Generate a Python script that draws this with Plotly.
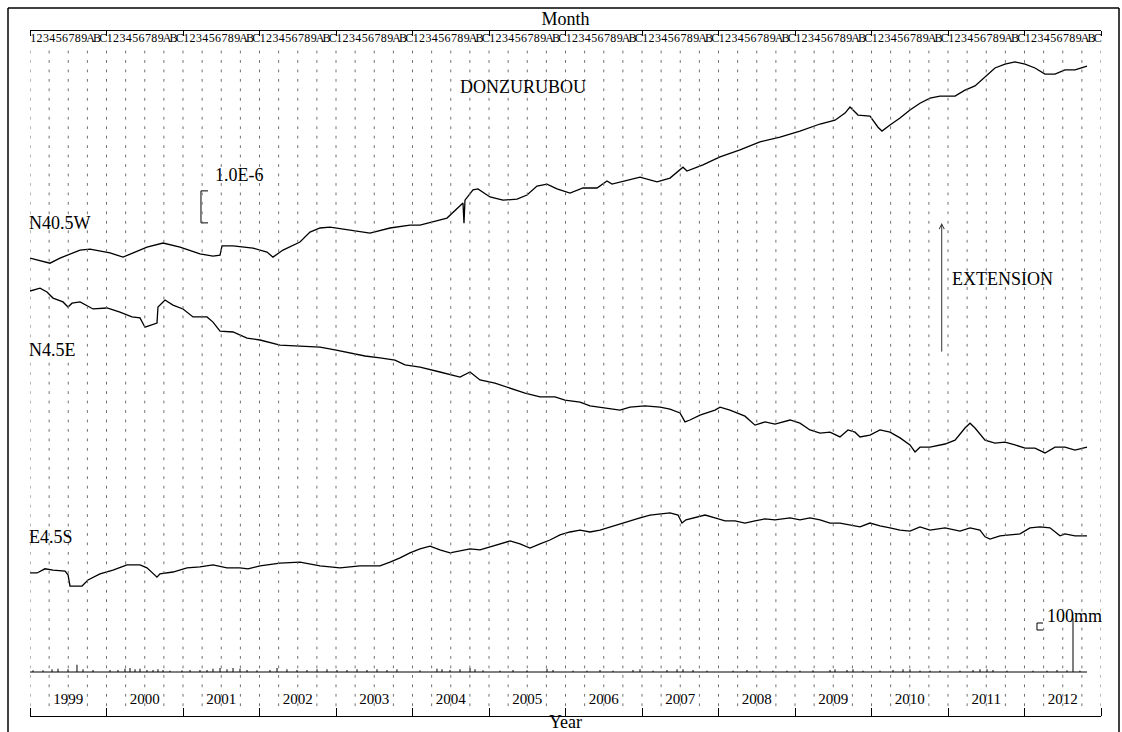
import numpy as np
import plotly.graph_objects as go

FONT = "Liberation Serif"

# ---------------- data ----------------
YEARS = list(range(1999, 2013))
MONTH_LABELS = ["1", "2", "3", "4", "5", "6", "7", "8", "9", "A", "B", "C"]

# strain change (1e-6) relative to start of record
N40_T = [1999.000, 1999.261, 1999.392, 1999.654, 1999.784, 2000.046, 2000.216, 2000.529, 2000.739, 2000.961,
         2001.222, 2001.392, 2001.484, 2001.510, 2001.654, 2001.915, 2002.098, 2002.176, 2002.307, 2002.529,
         2002.660, 2002.791, 2002.922, 2003.183, 2003.444, 2003.706, 2003.967, 2004.098, 2004.451, 2004.660,
         2004.673, 2004.686, 2004.791, 2004.856, 2005.013, 2005.183, 2005.366, 2005.497, 2005.627, 2005.758,
         2005.889, 2006.059, 2006.229, 2006.412, 2006.542, 2006.608, 2006.804, 2006.974, 2007.196, 2007.366,
         2007.536, 2007.588, 2007.797, 2008.020, 2008.281, 2008.542, 2008.804, 2009.065, 2009.327, 2009.523,
         2009.654, 2009.719, 2009.824, 2009.980, 2010.085, 2010.137, 2010.242, 2010.373, 2010.503, 2010.634,
         2010.765, 2010.895, 2011.092, 2011.222, 2011.353, 2011.484, 2011.614, 2011.745, 2011.876, 2012.007,
         2012.137, 2012.268, 2012.399, 2012.529, 2012.660, 2012.817]
N40_V = [0.00, -0.16, 0.00, 0.25, 0.28, 0.16, 0.03, 0.34, 0.47, 0.34,
         0.13, 0.06, 0.09, 0.38, 0.38, 0.31, 0.19, 0.03, 0.25, 0.50,
         0.81, 0.94, 0.97, 0.88, 0.78, 0.94, 1.03, 1.03, 1.25, 1.72,
         1.09, 1.81, 2.13, 2.16, 1.91, 1.81, 1.84, 1.97, 2.25, 2.31,
         2.16, 2.03, 2.19, 2.19, 2.41, 2.31, 2.44, 2.53, 2.38, 2.50,
         2.84, 2.72, 2.91, 3.16, 3.38, 3.63, 3.78, 3.97, 4.19, 4.31,
         4.53, 4.72, 4.47, 4.44, 4.09, 3.97, 4.16, 4.38, 4.63, 4.84,
         5.00, 5.06, 5.06, 5.25, 5.38, 5.66, 5.94, 6.06, 6.13, 6.06,
         5.94, 5.75, 5.75, 5.88, 5.88, 6.00]

N4_T = [1999.000, 1999.131, 1999.222, 1999.301, 1999.431, 1999.497, 1999.549, 1999.654, 1999.824, 2000.007,
        2000.176, 2000.333, 2000.438, 2000.503, 2000.660, 2000.673, 2000.765, 2000.869, 2001.000, 2001.131,
        2001.314, 2001.392, 2001.484, 2001.654, 2001.837, 2002.007, 2002.268, 2002.529, 2002.791, 2002.987,
        2003.183, 2003.379, 2003.575, 2003.771, 2003.902, 2004.098, 2004.359, 2004.621, 2004.752, 2004.882,
        2005.078, 2005.275, 2005.471, 2005.667, 2005.863, 2005.993, 2006.190, 2006.320, 2006.451, 2006.582,
        2006.712, 2006.843, 2007.039, 2007.235, 2007.366, 2007.497, 2007.562, 2007.627, 2007.758, 2007.954,
        2008.020, 2008.150, 2008.346, 2008.477, 2008.608, 2008.739, 2008.935, 2009.065, 2009.196, 2009.327,
        2009.458, 2009.588, 2009.693, 2009.784, 2009.850, 2009.980, 2010.111, 2010.242, 2010.373, 2010.503,
        2010.569, 2010.634, 2010.765, 2010.961, 2011.092, 2011.222, 2011.288, 2011.353, 2011.484, 2011.614,
        2011.745, 2011.876, 2012.007, 2012.137, 2012.268, 2012.399, 2012.529, 2012.660, 2012.817]
N4_V = [0.00, 0.09, -0.03, -0.22, -0.34, -0.50, -0.38, -0.34, -0.56, -0.53,
        -0.66, -0.81, -0.84, -1.13, -1.00, -0.50, -0.28, -0.44, -0.56, -0.81,
        -0.81, -0.97, -1.25, -1.28, -1.47, -1.53, -1.69, -1.72, -1.75, -1.84,
        -1.94, -2.03, -2.09, -2.16, -2.31, -2.38, -2.53, -2.69, -2.53, -2.78,
        -2.88, -3.03, -3.19, -3.31, -3.31, -3.41, -3.47, -3.59, -3.63, -3.66,
        -3.72, -3.63, -3.59, -3.63, -3.69, -3.81, -4.09, -4.03, -3.88, -3.72,
        -3.63, -3.72, -3.91, -4.19, -4.09, -4.16, -4.03, -4.13, -4.34, -4.44,
        -4.41, -4.56, -4.34, -4.41, -4.56, -4.50, -4.34, -4.41, -4.59, -4.81,
        -5.03, -4.88, -4.88, -4.78, -4.66, -4.28, -4.13, -4.28, -4.66, -4.75,
        -4.72, -4.81, -4.91, -4.91, -5.06, -4.88, -4.88, -4.97, -4.88]

E4_T = [1999.000, 1999.092, 1999.196, 1999.301, 1999.458, 1999.497, 1999.523, 1999.680, 1999.758, 1999.915,
        2000.085, 2000.268, 2000.438, 2000.529, 2000.660, 2000.699, 2000.869, 2001.052, 2001.222, 2001.392,
        2001.575, 2001.745, 2001.850, 2002.007, 2002.268, 2002.529, 2002.791, 2003.052, 2003.314, 2003.575,
        2003.706, 2003.837, 2003.967, 2004.098, 2004.229, 2004.359, 2004.490, 2004.621, 2004.752, 2004.882,
        2005.013, 2005.144, 2005.275, 2005.405, 2005.536, 2005.667, 2005.797, 2005.928, 2006.059, 2006.190,
        2006.320, 2006.451, 2006.582, 2006.712, 2006.843, 2006.974, 2007.105, 2007.235, 2007.366, 2007.471,
        2007.523, 2007.575, 2007.693, 2007.824, 2007.954, 2008.085, 2008.216, 2008.346, 2008.477, 2008.608,
        2008.739, 2008.935, 2009.065, 2009.196, 2009.327, 2009.458, 2009.588, 2009.719, 2009.850, 2009.980,
        2010.111, 2010.242, 2010.373, 2010.503, 2010.634, 2010.765, 2010.961, 2011.157, 2011.288, 2011.418,
        2011.484, 2011.549, 2011.680, 2011.810, 2011.941, 2012.072, 2012.203, 2012.333, 2012.399, 2012.464,
        2012.529, 2012.660, 2012.817]
E4_V = [0.00, 0.00, 0.13, 0.09, 0.06, -0.06, -0.41, -0.41, -0.22, -0.03,
        0.09, 0.25, 0.25, 0.16, -0.13, -0.03, 0.03, 0.16, 0.19, 0.25,
        0.16, 0.16, 0.13, 0.22, 0.31, 0.34, 0.22, 0.16, 0.22, 0.22,
        0.34, 0.47, 0.63, 0.75, 0.84, 0.72, 0.63, 0.69, 0.75, 0.72,
        0.81, 0.91, 1.00, 0.91, 0.78, 0.91, 1.03, 1.19, 1.28, 1.34,
        1.28, 1.34, 1.44, 1.53, 1.63, 1.72, 1.81, 1.84, 1.88, 1.81,
        1.56, 1.66, 1.72, 1.81, 1.72, 1.63, 1.63, 1.56, 1.63, 1.69,
        1.66, 1.72, 1.66, 1.72, 1.66, 1.56, 1.56, 1.50, 1.44, 1.56,
        1.47, 1.41, 1.34, 1.31, 1.44, 1.34, 1.41, 1.31, 1.41, 1.34,
        1.13, 1.06, 1.16, 1.19, 1.22, 1.41, 1.44, 1.41, 1.28, 1.16,
        1.22, 1.16, 1.16]

# precipitation (mm)
RAIN_T = [1999.039, 1999.170, 1999.288, 1999.366, 1999.497, 1999.614, 1999.693, 1999.824, 2000.046, 2000.150,
          2000.242, 2000.307, 2000.373, 2000.438, 2000.529, 2000.608, 2000.673, 2000.739, 2000.830, 2000.987,
          2001.092, 2001.222, 2001.314, 2001.392, 2001.484, 2001.575, 2001.654, 2001.745, 2001.837, 2001.967,
          2002.137, 2002.229, 2002.359, 2002.490, 2002.621, 2002.752, 2002.882, 2003.013, 2003.144, 2003.275,
          2003.405, 2003.536, 2003.667, 2003.797,
          2004.098, 2004.320, 2004.386, 2004.490, 2004.621, 2004.752, 2004.817, 2004.922, 2005.144, 2005.314,
          2005.497, 2005.758, 2005.837, 2006.098, 2006.281, 2006.451, 2006.621, 2006.882, 2006.974, 2007.144,
          2007.327, 2007.458, 2007.536, 2007.667, 2007.850, 2008.190, 2008.373, 2008.542, 2008.712, 2008.895,
          2009.065, 2009.235, 2009.458, 2009.523, 2009.680, 2009.758, 2009.889, 2010.111, 2010.281, 2010.412,
          2010.503, 2010.634, 2010.765, 2010.895, 2011.157, 2011.327, 2011.418, 2011.510, 2011.588, 2011.771,
          2012.111, 2012.294, 2012.425, 2012.556, 2012.634, 2012.725]
RAIN_MM = [24, 24, 39, 47, 39, 104, 39, 29, 29, 29,
           47, 57, 39, 47, 29, 29, 39, 29, 19, 24,
           29, 29, 29, 47, 57, 39, 57, 47, 29, 24,
           29, 57, 39, 29, 29, 39, 39, 29, 29, 39,
           29, 39, 29, 39,
           24, 47, 39, 29, 39, 57, 39, 24, 19, 29,
           24, 47, 29, 19, 19, 29, 19, 29, 39, 19,
           29, 39, 39, 29, 19, 19, 29, 19, 19, 19,
           19, 24, 29, 39, 29, 39, 19, 19, 29, 39,
           39, 19, 19, 19, 19, 29, 39, 39, 29, 19,
           19, 19, 29, 24, 770, 19]

SERIES = [("N40.5W", N40_T, N40_V), ("N4.5E", N4_T, N4_V), ("E4.5S", E4_T, E4_V)]

# ---------------- display layout constants ----------------
W, H = 1122, 732
ML, MR, MT, MB = 30, 21, 31, 16
PLOT_W = W - ML - MR
PLOT_H = H - MT - MB
PX_PER_STRAIN = 32.0           # pixels per 1e-6
PX_PER_MM = 0.07               # pixels per mm of rain
RAIN_BASE_PX = 44              # rain baseline above plot bottom
Y_TOP = PLOT_H / PX_PER_STRAIN
OFFSETS = {"N40.5W": 14.31, "N4.5E": 13.28, "E4.5S": 4.47}
LABEL_Y = {"N40.5W": 15.41, "N4.5E": 11.44, "E4.5S": 5.59}
SCALE_STRAIN = 1.0
SCALE_MM = 100

fig = go.Figure()

# dotted lattice (quarter-year columns)
cols = np.arange(YEARS[0], YEARS[-1] + 1 + 1e-9, 0.25)
rows = PLOT_H - (21 + 9.46 * np.arange(70))
gx, gy = np.meshgrid(cols, rows)
fig.add_trace(go.Scatter(x=gx.ravel(), y=gy.ravel(), mode="markers", xaxis="x2", yaxis="y3",
                         marker=dict(symbol="line-ns", size=2, line=dict(width=1, color="#707070")),
                         hoverinfo="skip", showlegend=False))

# strain traces
for name, t, v in SERIES:
    fig.add_trace(go.Scatter(x=t, y=np.array(v) + OFFSETS[name], mode="lines", name=name,
                             line=dict(color="black", width=1.3), showlegend=False))

# rain bars
rx, ry = [], []
for t, mm in zip(RAIN_T, RAIN_MM):
    rx += [t, t, None]
    ry += [0, mm, None]
fig.add_trace(go.Scatter(x=rx, y=ry, mode="lines", yaxis="y2", line=dict(color="black", width=1),
                         showlegend=False, hoverinfo="skip"))
fig.add_trace(go.Scatter(x=[N40_T[0], N40_T[-1]], y=[0, 0], mode="lines", yaxis="y2",
                         line=dict(color="black", width=1), showlegend=False))

# 1.0E-6 scale bracket
bx0, bx1, by0 = 2001.235, 2001.327, 15.41
fig.add_trace(go.Scatter(x=[bx1, bx0, bx0, bx1], y=[by0 + SCALE_STRAIN, by0 + SCALE_STRAIN, by0, by0],
                         mode="lines", line=dict(color="black", width=1), showlegend=False))
# 100mm scale bracket
rx0, rx1, rb = 2012.163, 2012.242, 600
fig.add_trace(go.Scatter(x=[rx1, rx0, rx0, rx1], y=[rb + SCALE_MM, rb + SCALE_MM, rb, rb], yaxis="y2",
                         mode="lines", line=dict(color="black", width=1), showlegend=False))

annos = []
for name, _, _ in SERIES:
    annos.append(dict(x=YEARS[0], xshift=-3, y=LABEL_Y[name], text=name, xanchor="left",
                      yanchor="middle", showarrow=False))
annos += [
    dict(x=2004.595, y=19.66, text="DONZURUBOU", xanchor="left", yanchor="middle", showarrow=False),
    dict(x=2001.392, y=16.91, text="1.0E-6", xanchor="left", yanchor="middle", showarrow=False),
    dict(x=2011.026, y=13.66, text="EXTENSION", xanchor="left", yanchor="middle", showarrow=False),
    dict(x=2012.268, y=3.125, text="100mm", xanchor="left", yanchor="middle", showarrow=False),
    dict(x=2010.918, y=15.41, ax=2010.918, ay=11.34, axref="x", ayref="y", text="", showarrow=True,
         arrowhead=5, arrowsize=1, arrowwidth=1, arrowcolor="#333333"),
]
for a in annos:
    a.setdefault("xref", "x")
    a.setdefault("yref", "y")
    a["font"] = dict(family=FONT, size=18, color="black")

month_vals, month_text = [], []
for y in YEARS:
    for i, m in enumerate(MONTH_LABELS):
        month_vals.append(y + (i + 0.5) / 12)
        month_text.append(m)
year_bounds = YEARS + [YEARS[-1] + 1]

# outer frame (left, top, right edges) in paper coordinates
fx0, fx1 = (8 - ML) / PLOT_W, (1119 - ML) / PLOT_W
fy_top, fy_bot = ((H - MB) - 8) / PLOT_H, -MB / PLOT_H
frame = [dict(type="line", xref="paper", yref="paper", x0=a, y0=b, x1=c, y1=d,
              line=dict(color="black", width=1.5), layer="above")
         for a, b, c, d in [(fx0, fy_bot, fx0, fy_top), (fx0, fy_top, fx1, fy_top), (fx1, fy_top, fx1, fy_bot)]]

fig.update_layout(
    template="none",
    width=W, height=H, autosize=False,
    margin=dict(l=ML, r=MR, t=MT, b=MB, pad=0, autoexpand=False),
    paper_bgcolor="white", plot_bgcolor="white",
    showlegend=False,
    font=dict(family=FONT, color="black"),
    annotations=annos,
    xaxis=dict(range=[YEARS[0], YEARS[-1] + 1], showgrid=False, zeroline=False, automargin=False,
               showline=True, linecolor="black", linewidth=1,
               tickmode="array", tickvals=[y + 0.5 for y in YEARS], ticktext=[str(y) for y in YEARS],
               ticks="", ticklabelposition="inside", ticklabelstandoff=9, tickangle=0,
               tickfont=dict(family=FONT, size=15, color="black"),
               minor=dict(tickmode="array", tickvals=year_bounds, ticks="inside", ticklen=8,
                          tickcolor="black", tickwidth=1, showgrid=False),
               title=dict(text="Year", font=dict(family=FONT, size=18), standoff=20)),
    xaxis2=dict(range=[YEARS[0], YEARS[-1] + 1], overlaying="x", side="top", anchor="y", automargin=False,
                showgrid=False, zeroline=False, showline=True, linecolor="black", linewidth=1,
                tickmode="array", tickvals=month_vals, ticktext=month_text,
                ticks="", ticklabelposition="inside", ticklabeloverflow="allow", tickangle=0,
                ticklabelstandoff=2,
                tickfont=dict(family=FONT, size=12, color="black"),
                minor=dict(tickmode="array", tickvals=year_bounds, ticks="inside", ticklen=5,
                           tickcolor="black", tickwidth=1, showgrid=False),
                title=dict(text="Month", font=dict(family=FONT, size=18), standoff=0)),
    yaxis=dict(range=[0, Y_TOP], visible=False, fixedrange=True, automargin=False),
    yaxis2=dict(range=[-RAIN_BASE_PX / PX_PER_MM, (PLOT_H - RAIN_BASE_PX) / PX_PER_MM],
                overlaying="y", visible=False, automargin=False),
    yaxis3=dict(range=[0, PLOT_H], overlaying="y", visible=False, automargin=False),
    shapes=frame,
)

fig.write_html("out.html", config={"displayModeBar": False},
               post_script="document.body.style.margin='0px';document.body.style.overflow='hidden';")
